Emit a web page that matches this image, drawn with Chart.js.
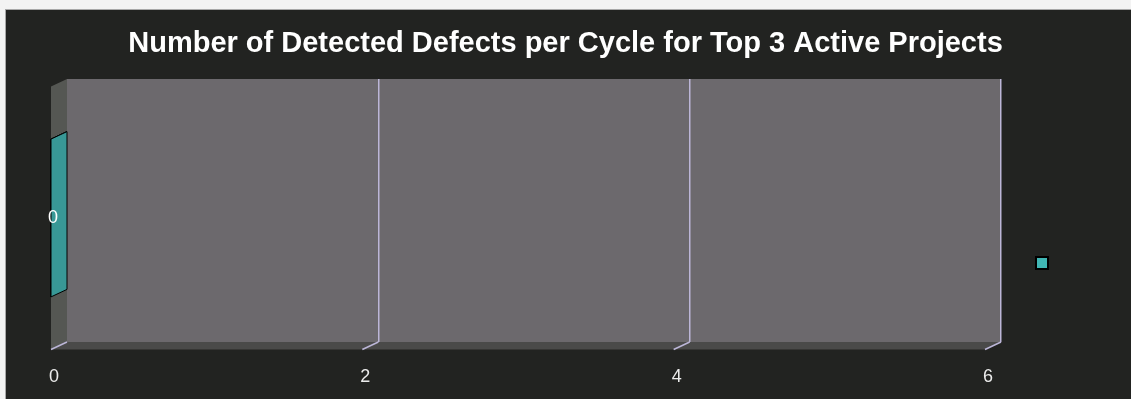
<!DOCTYPE html>
<html>
<head>
<meta charset="utf-8">
<script src="https://cdn.jsdelivr.net/npm/chart.js@4"></script>
<style>
  html, body { margin: 0; padding: 0; background: #f3f3f3; }
  #frame {
    position: absolute; left: 5px; top: 9px;
    width: 1126px; height: 390px;
    border-left: 1px solid #a8a8a8; border-top: 1px solid #a8a8a8;
    background: #222321;
    overflow: hidden;
  }
  canvas { display: block; }
</style>
</head>
<body>
<div id="frame"><canvas id="chart" width="1125" height="389"></canvas></div>
<script>
// Chart content
const chartTitle = 'Number of Detected Defects per Cycle for Top 3 Active Projects';
const categories = [''];
const seriesName = '';
const defectCounts = [0];
const axisMin = 0;
const axisMax = 6;
const axisStep = 2;

// Look of the pseudo-3D frame
const DX = 16;     // depth offset, back plane -> front plane (x)
const DY = 7.5;    // depth offset, back plane -> front plane (y)
const COLORS = {
  wall: '#6c696d',
  sideWall: '#555753',
  floor: '#4a4a49',
  grid: '#bcb6d8',
  series: '#40b6b4',
  seriesFront: '#3ea9a7',
  seriesTop: '#58c4c2',
  seriesEnd: '#389896',
  text: '#ececec'
};
const FONT = '"Liberation Sans", Arial, sans-serif';

function poly(ctx, pts) {
  ctx.beginPath();
  ctx.moveTo(pts[0][0], pts[0][1]);
  for (let i = 1; i < pts.length; i++) ctx.lineTo(pts[i][0], pts[i][1]);
  ctx.closePath();
}

const depth3d = {
  id: 'depth3d',
  beforeDraw(chart) {
    const { ctx, chartArea: a } = chart;
    ctx.save();
    // back wall
    ctx.fillStyle = COLORS.wall;
    ctx.fillRect(a.left, a.top, a.right - a.left, a.bottom - a.top);
    // floor
    ctx.fillStyle = COLORS.floor;
    poly(ctx, [[a.left, a.bottom], [a.right, a.bottom], [a.right - DX, a.bottom + DY], [a.left - DX, a.bottom + DY]]);
    ctx.fill();
    // left side wall
    ctx.fillStyle = COLORS.sideWall;
    poly(ctx, [[a.left, a.top], [a.left, a.bottom], [a.left - DX, a.bottom + DY], [a.left - DX, a.top + DY]]);
    ctx.fill();
    ctx.restore();
  },
  beforeDatasetDraw() {
    // bars are drawn as prisms in afterDatasetsDraw
    return false;
  },
  afterDatasetsDraw(chart) {
    const { ctx, chartArea: a } = chart;
    const xs = chart.scales.x;
    ctx.save();
    // slanted tick marks along the floor edge
    ctx.strokeStyle = COLORS.grid;
    ctx.lineWidth = 1.5;
    xs.ticks.forEach(t => {
      const x = xs.getPixelForValue(t.value);
      ctx.beginPath();
      ctx.moveTo(x, a.bottom);
      ctx.lineTo(x - DX, a.bottom + DY);
      ctx.stroke();
    });
    // bars as prisms: top face, front face, end face
    const meta = chart.getDatasetMeta(0);
    meta.data.forEach((bar, i) => {
      const { x, y, base, height } = bar.getProps(['x', 'y', 'base', 'height'], true);
      const top = y - height / 2, bot = y + height / 2;
      ctx.lineWidth = 1;
      ctx.strokeStyle = '#000';
      ctx.fillStyle = COLORS.seriesTop;
      poly(ctx, [[base, top], [x, top], [x - DX, top + DY], [base - DX, top + DY]]);
      ctx.fill(); ctx.stroke();
      ctx.fillStyle = COLORS.seriesFront;
      poly(ctx, [[base - DX, top + DY], [x - DX, top + DY], [x - DX, bot + DY], [base - DX, bot + DY]]);
      ctx.fill(); ctx.stroke();
      ctx.fillStyle = COLORS.seriesEnd;
      poly(ctx, [[x, top], [x, bot], [x - DX, bot + DY], [x - DX, top + DY]]);
      ctx.fill(); ctx.stroke();
      // value label
      ctx.fillStyle = '#ffffff';
      ctx.font = '18px ' + FONT;
      ctx.textAlign = 'center';
      ctx.textBaseline = 'middle';
      ctx.fillText(String(defectCounts[i]), x - DX + 2, y + DY);
    });
    ctx.restore();
  }
};

new Chart(document.getElementById('chart'), {
  type: 'bar',
  data: {
    labels: categories,
    datasets: [{
      label: seriesName,
      data: defectCounts,
      backgroundColor: COLORS.series,
      borderColor: '#000000',
      borderWidth: 2,
      categoryPercentage: 0.6,
      barPercentage: 1.0
    }]
  },
  options: {
    indexAxis: 'y',
    responsive: false,
    animation: false,
    layout: { padding: { top: 0, left: 61, right: 67, bottom: -12.6 } },
    scales: {
      x: {
        min: axisMin,
        max: axisMax,
        border: { display: false },
        grid: {
          drawTicks: false,
          lineWidth: 1.5,
          color: ctx => (ctx.tick && ctx.tick.value === axisMin ? 'rgba(0,0,0,0)' : COLORS.grid)
        },
        ticks: {
          stepSize: axisStep,
          padding: 24,
          labelOffset: -13,
          color: COLORS.text,
          font: { family: FONT, size: 18 }
        }
      },
      y: { display: false }
    },
    plugins: {
      title: {
        display: true,
        text: chartTitle,
        color: '#ffffff',
        font: { family: FONT, size: 29, weight: 'bold' },
        padding: { top: 17, bottom: 17.2 }
      },
      legend: {
        display: true,
        position: 'right',
        title: { display: true, text: '', font: { size: 10 }, padding: { top: 0, bottom: 92.4 } },
        labels: {
          boxWidth: 12,
          boxHeight: 12,
          padding: 35,
          color: COLORS.text,
          font: { size: 12 }
        }
      },
      tooltip: { enabled: false }
    }
  },
  plugins: [depth3d]
});
</script>
</body>
</html>
